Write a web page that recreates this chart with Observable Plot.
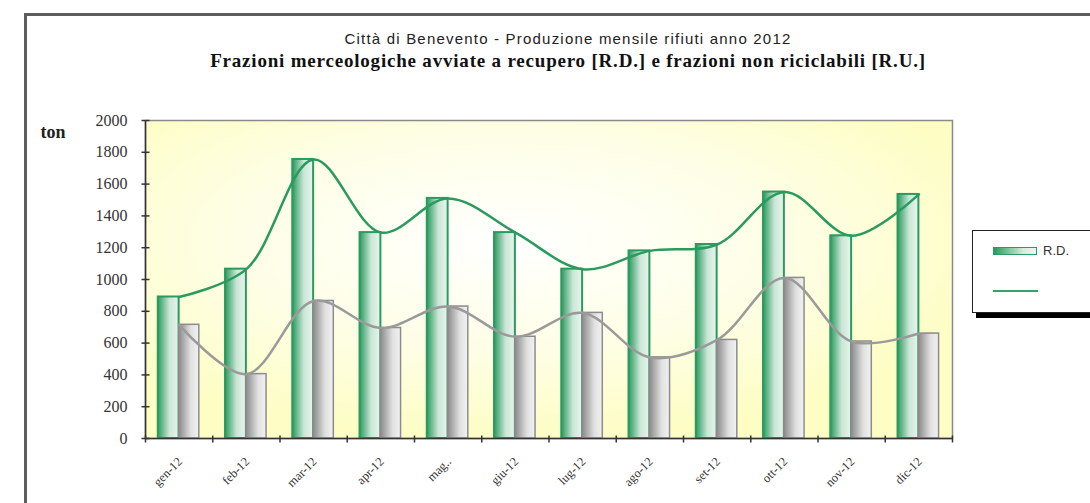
<!DOCTYPE html>
<html>
<head>
<meta charset="utf-8">
<script src="https://cdn.jsdelivr.net/npm/d3@7"></script>
<script src="https://cdn.jsdelivr.net/npm/@observablehq/plot@0.6"></script>
<style>
  html, body { margin: 0; padding: 0; background: #fff; }
  #wrap { position: relative; width: 1090px; height: 503px; overflow: hidden; background: #fff; }
  #outer { position: absolute; left: 24px; top: 13px; width: 1200px; height: 700px;
           border-left: 3px solid #5e5e5e; border-top: 3px solid #5e5e5e; box-sizing: border-box; }
  #titles { position: relative; height: 100px; }
  .t1 { position: absolute; left: 568px; top: 30px; transform: translateX(-50%); white-space: nowrap;
        font-family: "Liberation Sans", Arial, sans-serif; font-size: 15px; color: #222; letter-spacing: 1.2px; }
  .t2 { position: absolute; left: 568px; top: 50px; transform: translateX(-50%); white-space: nowrap;
        font-family: "Liberation Serif", "DejaVu Serif", serif; font-weight: bold; font-size: 19px; color: #111; letter-spacing: 0.8px; }
  #chart { position: relative; }
  #legend { position: absolute; left: 972px; top: 230px; width: 140px; height: 83px; background: #fff;
            border: 1.5px solid #222; box-shadow: 4px 5px 0 #000; box-sizing: border-box; }
  .sw { position: absolute; left: 20px; top: 16px; width: 44px; height: 8px; border: 1.5px solid #2a9a5e;
        background: linear-gradient(to right, #2a9a5e, #d6ecdf 70%, #eef7f2); box-sizing: border-box; }
  .lab { position: absolute; left: 70px; top: 12px; font-family: "Liberation Sans", Arial, sans-serif; font-size: 13px; color: #333; }
  .ln { position: absolute; left: 20px; top: 59px; width: 45px; height: 2px; background: #3aa06a; }
</style>
</head>
<body>
<div id="wrap">
  <div id="outer"></div>
  <div id="titles">
    <div class="t1">Città di Benevento - Produzione mensile rifiuti anno 2012</div>
    <div class="t2">Frazioni merceologiche avviate a recupero [R.D.] e frazioni non riciclabili [R.U.]</div>
  </div>
  <div id="chart"></div>
  <div id="legend">
    <div class="sw"></div><div class="lab">R.D.</div>
    <div class="ln"></div>
  </div>
</div>
<script>
const months = ["gen-12","feb-12","mar-12","apr-12","mag..","giu-12","lug-12","ago-12","set-12","ott-12","nov-12","dic-12"];
const rdValues = [890, 1065, 1755, 1295, 1510, 1295, 1065, 1180, 1220, 1550, 1275, 1535];
const ruValues = [715, 405, 865, 695, 830, 640, 790, 510, 620, 1010, 610, 660];
const yTicks = [0, 200, 400, 600, 800, 1000, 1200, 1400, 1600, 1800, 2000];

const data = months.map((m, i) => ({i, month: m, rd: rdValues[i], ru: ruValues[i]}));
const bounds = d3.range(months.length + 1);
const centers = months.map((m, i) => i + 0.5);

const hTick = {draw(ctx) { ctx.moveTo(-4, 0); ctx.lineTo(4, 0); }};
const vTick = {draw(ctx) { ctx.moveTo(0, -3); ctx.lineTo(0, 4); }};

const serif = "'Liberation Serif', 'DejaVu Serif', serif";

const chart = Plot.plot({
  width: 1090,
  height: 403,
  marginLeft: 145,
  marginRight: 138,
  marginTop: 20,
  marginBottom: 65,
  style: {background: "transparent", color: "#333"},
  x: {domain: [0, months.length]},
  y: {domain: [0, 2000]},
  marks: [
    Plot.frame({fill: "url(#bgGrad)", stroke: "#8a8a8a", strokeWidth: 1.5}),
    Plot.rectY(data, {x1: d => d.i + 0.19, x2: d => d.i + 0.5, y: "rd", fill: "url(#gGreen)", stroke: "#2a9a5e", strokeWidth: 2}),
    Plot.rectY(data, {x1: d => d.i + 0.5, x2: d => d.i + 0.8, y: "ru", fill: "url(#gGrey)", stroke: "#8c8c8c", strokeWidth: 1.5}),
    Plot.line(data, {x: d => d.i + 0.5, y: "ru", curve: "catmull-rom", stroke: "#9a9a9a", strokeWidth: 2.5}),
    Plot.line(data, {x: d => d.i + 0.5, y: "rd", curve: "catmull-rom", stroke: "#2a9a5e", strokeWidth: 2.5}),
    Plot.ruleY([0], {stroke: "#333", strokeWidth: 1.5}),
    Plot.ruleX([0], {stroke: "#333", strokeWidth: 1.5}),
    Plot.dot(yTicks, {x: 0, y: d => d, symbol: hTick, fill: "none", stroke: "#333", strokeWidth: 1.5}),
    Plot.dot(bounds, {x: d => d, y: 0, symbol: vTick, fill: "none", stroke: "#333", strokeWidth: 1.5}),
    Plot.axisY({ticks: yTicks, tickFormat: d => String(d), tickSize: 0, tickPadding: 18, fontSize: 16, fontFamily: serif, label: null}),
    Plot.axisX({ticks: centers, tickFormat: v => months[Math.round(v - 0.5)], tickRotate: -45, tickSize: 0, tickPadding: 21, fontSize: 12.5, fontFamily: serif, label: null, dx: 1}),
    Plot.text(["ton"], {frameAnchor: "top-left", dx: -105, dy: 5, textAnchor: "start", fontWeight: "bold", fontSize: 18, fontFamily: serif, fill: "#222"})
  ]
});

document.getElementById("chart").appendChild(chart);
const svg = chart.tagName.toLowerCase() === "svg" ? chart : chart.querySelector("svg");
d3.select(svg).insert("defs", ":first-child").html(`
  <radialGradient id="bgGrad" cx="0.45" cy="0.38" r="0.62">
    <stop offset="0" stop-color="#ffffff"/>
    <stop offset="0.55" stop-color="#fefee6"/>
    <stop offset="1" stop-color="#fdfdc4"/>
  </radialGradient>
  <linearGradient id="gGreen" x1="0" y1="0" x2="1" y2="0">
    <stop offset="0" stop-color="#2a9a5e"/>
    <stop offset="0.55" stop-color="#c9e6d5"/>
    <stop offset="1" stop-color="#e9f5ee"/>
  </linearGradient>
  <linearGradient id="gGrey" x1="0" y1="0" x2="1" y2="0">
    <stop offset="0" stop-color="#8a8a8a"/>
    <stop offset="0.6" stop-color="#e0e0e0"/>
    <stop offset="1" stop-color="#f2f2f2"/>
  </linearGradient>
`);
</script>
</body>
</html>
